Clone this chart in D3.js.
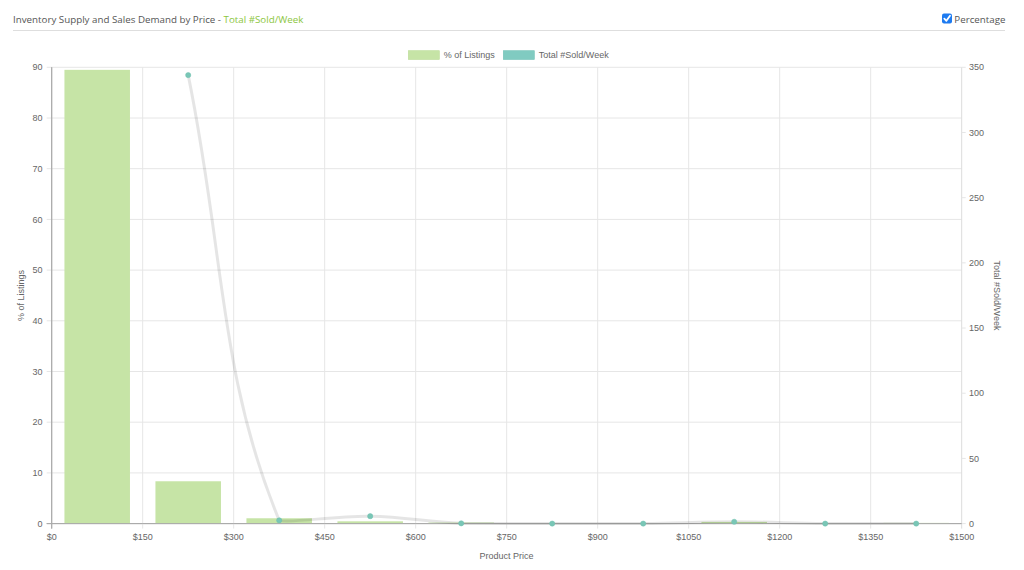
<!DOCTYPE html>
<html>
<head>
<meta charset="utf-8">
<script src="https://cdn.jsdelivr.net/npm/d3@7"></script>
<style>
  html, body { margin: 0; padding: 0; background: #fff; }
  svg { display: block; }
</style>
</head>
<body>
<svg id="chart" width="1024" height="570"></svg>
<script>
// ---- data ----
const categories = ["$0-$150", "$150-$300", "$300-$450", "$450-$600", "$600-$750",
                    "$750-$900", "$900-$1050", "$1050-$1200", "$1200-$1350", "$1350-$1500"];
const pctListings = [89.5, 8.35, 1.05, 0.45, 0.2, 0.03, 0.03, 0.33, 0.03, 0.14];
const soldPerWeek = [null, 344, 2.5, 5.7, 0.2, 0, 0, 1.4, 0, 0];
const priceTicks = [0, 150, 300, 450, 600, 750, 900, 1050, 1200, 1350, 1500];
const leftTicks = [0, 10, 20, 30, 40, 50, 60, 70, 80, 90];
const rightTicks = [0, 50, 100, 150, 200, 250, 300, 350];

// ---- layout ----
const svg = d3.select("#chart");
const L = 51.7, R = 961.7, T = 67.3, B = 523.6;
const tickFont = "Liberation Sans, Arial, Helvetica, sans-serif";
const labelColor = "#666";

const x = d3.scaleBand().domain(categories).range([L, R]).paddingInner(0).paddingOuter(0);
const xPrice = d3.scaleLinear().domain([0, 1500]).range([L, R]);
const yL = d3.scaleLinear().domain([0, 90]).range([B, T]);
const yR = d3.scaleLinear().domain([0, 350]).range([B, T]);

// ---- header ----
const title = svg.append("text").attr("x", 13).attr("y", 22.5)
  .attr("font-family", "Open Sans, sans-serif").attr("font-size", 10.5).attr("fill", "#555");
title.append("tspan").text("Inventory Supply and Sales Demand by Price - ");
title.append("tspan").attr("fill", "#8cc63e").text("Total #Sold/Week");
// fit title width to reference
const tl = title.node().getComputedTextLength();
const fs = 10.5 * 291 / tl;
title.attr("font-size", fs);

svg.append("line").attr("x1", 13).attr("x2", 1005).attr("y1", 30.5).attr("y2", 30.5)
  .attr("stroke", "#dedede").attr("stroke-width", 1);

// checkbox
svg.append("rect").attr("x", 942).attr("y", 13.5).attr("width", 10).attr("height", 10)
  .attr("rx", 2).attr("fill", "#1e7bf0");
svg.append("path").attr("d", "M944.3,18.6 L946.4,20.8 L950,15.8")
  .attr("fill", "none").attr("stroke", "#fff").attr("stroke-width", 1.8)
  .attr("stroke-linecap", "round").attr("stroke-linejoin", "round");
svg.append("text").attr("x", 954.3).attr("y", 22.5)
  .attr("font-family", "Open Sans, sans-serif").attr("font-size", fs).attr("fill", "#555")
  .text("Percentage");

// ---- legend ----
const legendItems = [
  { label: "% of Listings", fill: "#c6e4a6", stroke: "#bcdc98", x: 408.3 },
  { label: "Total #Sold/Week", fill: "#80cbc1", stroke: "#74c2b7", x: 503.3 }
];
legendItems.forEach(d => {
  svg.append("rect").attr("x", d.x).attr("y", 50.7).attr("width", 31).attr("height", 8.8)
    .attr("fill", d.fill).attr("stroke", d.stroke).attr("stroke-width", 0.6);
  svg.append("text").attr("x", d.x + 35.5).attr("y", 58.3)
    .attr("font-family", tickFont).attr("font-size", 9).attr("fill", labelColor).text(d.label);
});

// ---- grid ----
const grid = svg.append("g");
leftTicks.forEach(v => {
  grid.append("line").attr("x1", L - 5).attr("x2", R).attr("y1", yL(v)).attr("y2", yL(v))
    .attr("stroke", v === 0 ? "#aaa" : "#e6e6e6").attr("stroke-width", 1);
});
priceTicks.forEach((v, i) => {
  const xx = xPrice(v);
  grid.append("line").attr("x1", xx).attr("x2", xx).attr("y1", T).attr("y2", B + 5)
    .attr("stroke", i === 0 ? "#aaa" : (i === priceTicks.length - 1 ? "#dcdcdc" : "#e6e6e6"))
    .attr("stroke-width", 1);
});
// right axis ticks marks
rightTicks.forEach(v => {
  grid.append("line").attr("x1", R).attr("x2", R + 4).attr("y1", yR(v)).attr("y2", yR(v))
    .attr("stroke", "#e6e6e6");
});

// ---- bars ----
const bw = x.bandwidth() * 0.72;
svg.append("g").selectAll("rect").data(categories).join("rect")
  .attr("x", d => x(d) + (x.bandwidth() - bw) / 2)
  .attr("width", bw)
  .attr("y", (d, i) => yL(pctListings[i]))
  .attr("height", (d, i) => B - yL(pctListings[i]))
  .attr("fill", "#c6e4a6");

// redraw axis lines on top of bars
svg.append("line").attr("x1", L - 5).attr("x2", R).attr("y1", B).attr("y2", B)
  .attr("stroke", "#aaa");
svg.append("line").attr("x1", L).attr("x2", L).attr("y1", T).attr("y2", B + 5)
  .attr("stroke", "#aaa");

// ---- line (Chart.js-like spline with tension 0.4, capped to chart area) ----
const pts = [];
categories.forEach((c, i) => {
  if (soldPerWeek[i] !== null) pts.push({ x: x(c) + x.bandwidth() / 2, y: yR(soldPerWeek[i]) });
});
const tension = 0.4;
pts.forEach((p, i) => {
  const prev = pts[i - 1] || p, next = pts[i + 1] || p;
  const d01 = Math.hypot(p.x - prev.x, p.y - prev.y);
  const d12 = Math.hypot(next.x - p.x, next.y - p.y);
  let s01 = d01 / (d01 + d12), s12 = d12 / (d01 + d12);
  if (isNaN(s01)) s01 = 0; if (isNaN(s12)) s12 = 0;
  const fa = tension * s01, fb = tension * s12;
  const cap = (v, lo, hi) => Math.max(lo, Math.min(hi, v));
  p.cpPrev = { x: cap(p.x - fa * (next.x - prev.x), L, R), y: cap(p.y - fa * (next.y - prev.y), T, B) };
  p.cpNext = { x: cap(p.x + fb * (next.x - prev.x), L, R), y: cap(p.y + fb * (next.y - prev.y), T, B) };
});
const path = d3.path();
pts.forEach((p, i) => {
  if (i === 0) path.moveTo(p.x, p.y);
  else {
    const a = pts[i - 1];
    path.bezierCurveTo(a.cpNext.x, a.cpNext.y, p.cpPrev.x, p.cpPrev.y, p.x, p.y);
  }
});
svg.append("path").attr("d", path.toString()).attr("fill", "none")
  .attr("stroke", "rgba(0,0,0,0.1)").attr("stroke-width", 3);

svg.append("g").selectAll("circle").data(pts).join("circle")
  .attr("cx", d => d.x).attr("cy", d => d.y).attr("r", 2.6)
  .attr("fill", "#79c6b6").attr("stroke", "#6fc0af").attr("stroke-width", 0.5);

// ---- axes labels ----
const txt = (g) => g.attr("font-family", tickFont).attr("font-size", 9).attr("fill", labelColor);
const leftG = svg.append("g").call(txt);
leftTicks.forEach(v => {
  leftG.append("text").attr("x", 42.5).attr("y", yL(v)).attr("dy", "0.35em")
    .attr("text-anchor", "end").text(d3.format("d")(v));
});
const rightG = svg.append("g").call(txt);
rightTicks.forEach(v => {
  rightG.append("text").attr("x", 969).attr("y", yR(v)).attr("dy", "0.35em")
    .attr("text-anchor", "start").text(d3.format("d")(v));
});
const bottomG = svg.append("g").call(txt);
priceTicks.forEach(v => {
  bottomG.append("text").attr("x", xPrice(v)).attr("y", 540)
    .attr("text-anchor", "middle").text("$" + v);
});
svg.append("text").call(txt).attr("x", 506.5).attr("y", 558.5).attr("text-anchor", "middle")
  .text("Product Price");
svg.append("text").call(txt).attr("transform", "translate(23.5,295.5) rotate(-90)")
  .attr("text-anchor", "middle").text("% of Listings");
svg.append("text").call(txt).attr("transform", "translate(993.5,295.5) rotate(90)")
  .attr("text-anchor", "middle").text("Total #Sold/Week");
</script>
</body>
</html>
